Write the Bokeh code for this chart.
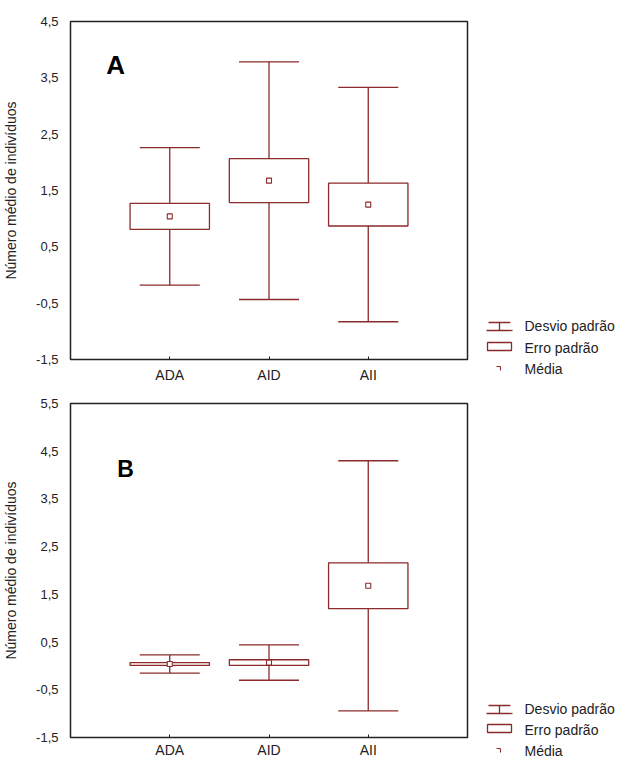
from bokeh.plotting import figure
from bokeh.models import (ColumnDataSource, FactorRange, Range1d, FixedTicker,
                          Whisker, TeeHead, Label)
from bokeh.layouts import column, row
from bokeh.embed import file_html
from bokeh.resources import INLINE
from bokeh.core.properties import value

# ---------------- data ----------------
categories = ["ADA", "AID", "AII"]

# Panel A : mean, standard error, standard deviation
a_mean = [1.04, 1.675, 1.25]
a_se = [0.23, 0.39, 0.38]
a_sd = [1.22, 2.11, 2.08]

# Panel B
b_mean = [0.04, 0.07, 1.68]
b_se = [0.03, 0.06, 0.48]
b_sd = [0.19, 0.37, 2.62]

a_yticks = [-1.5, -0.5, 0.5, 1.5, 2.5, 3.5, 4.5]
a_ylabels = ["-1,5", "-0,5", "0,5", "1,5", "2,5", "3,5", "4,5"]
b_yticks = [-1.5, -0.5, 0.5, 1.5, 2.5, 3.5, 4.5, 5.5]
b_ylabels = ["-1,5", "-0,5", "0,5", "1,5", "2,5", "3,5", "4,5", "5,5"]

y_title = "Número médio de indivíduos"
legend_labels = ["Desvio padrão", "Erro padrão", "Média"]

# ---------------- style ----------------
C = "#8B2B2B"
FONT = "Liberation Sans"
TXT = "#222222"
LW = 1.3
MAIN_W = 478


def panel(means, ses, sds, yticks, ylabels, letter, lx, ly, lsize,
          height, btop, bbottom, standoff):
    src = ColumnDataSource(dict(
        x=categories,
        mean=means,
        se_hi=[m + s for m, s in zip(means, ses)],
        se_lo=[m - s for m, s in zip(means, ses)],
        sd_hi=[m + s for m, s in zip(means, sds)],
        sd_lo=[m - s for m, s in zip(means, sds)],
    ))
    p = figure(width=MAIN_W, height=height,
               x_range=FactorRange(factors=categories, range_padding=0.5,
                                   range_padding_units="absolute"),
               y_range=Range1d(yticks[0], yticks[-1]),
               output_backend="svg", toolbar_location=None,
               title_location=None,
               min_border_left=68, min_border_right=11,
               min_border_top=btop, min_border_bottom=bbottom)
    p.xgrid.visible = False
    p.ygrid.visible = False
    p.outline_line_color = "#222222"
    p.outline_line_width = 1.5
    p.background_fill_color = "white"
    p.border_fill_color = "white"

    # whiskers (standard deviation) outside the box
    p.add_layout(Whisker(source=src, base="x", lower="se_hi", upper="sd_hi",
                         dimension="height", line_color=C, line_width=LW,
                         upper_head=TeeHead(size=60, line_color=C, line_width=LW),
                         lower_head=None))
    p.add_layout(Whisker(source=src, base="x", lower="sd_lo", upper="se_lo",
                         dimension="height", line_color=C, line_width=LW,
                         lower_head=TeeHead(size=60, line_color=C, line_width=LW),
                         upper_head=None))
    # standard error box
    p.vbar(x="x", top="se_hi", bottom="se_lo", width=0.8, source=src,
           fill_color="white", line_color=C, line_width=LW)
    # mean
    p.scatter(x="x", y="mean", marker="square", size=5, source=src,
              fill_color="white", line_color=C, line_width=1.1)

    # y axis
    ya = p.yaxis[0]
    ya.ticker = FixedTicker(ticks=yticks)
    ya.major_label_overrides = {t: l for t, l in zip(yticks, ylabels)}
    ya.minor_tick_line_color = None
    ya.major_tick_line_color = None
    ya.axis_line_color = "#222222"
    ya.major_label_standoff = 6
    ya.major_label_text_font = FONT
    ya.major_label_text_font_size = "13px"
    ya.major_label_text_color = TXT
    ya.axis_label = y_title
    ya.axis_label_text_font = FONT
    ya.axis_label_text_font_size = "14px"
    ya.axis_label_text_font_style = "normal"
    ya.axis_label_text_color = TXT
    ya.axis_label_standoff = 14

    # x axis
    xa = p.xaxis[0]
    xa.major_tick_in = 3
    xa.major_tick_out = 0
    xa.major_tick_line_color = "#222222"
    xa.axis_line_color = "#222222"
    xa.major_label_standoff = standoff
    xa.major_label_text_font = FONT
    xa.major_label_text_font_size = "14px"
    xa.major_label_text_color = TXT

    p.add_layout(Label(x=lx, y=ly, text=letter, text_font=FONT,
                       text_font_style="bold", text_font_size=lsize,
                       text_color="black", text_baseline="alphabetic",
                       text_align="left"))
    return p


def legend_fig(page_top, page_bottom, rows_y):
    # ranges expressed in page pixels
    lg = figure(width=618 - MAIN_W, height=page_bottom - page_top,
                x_range=Range1d(MAIN_W, 618),
                y_range=Range1d(page_bottom, page_top),
                output_backend="svg", toolbar_location=None,
                title_location=None,
                min_border=0, x_axis_location=None, y_axis_location=None)
    lg.outline_line_color = None
    lg.xgrid.visible = False
    lg.ygrid.visible = False
    y0, y1, y2 = rows_y
    # Desvio padrão symbol
    lg.segment(x0=[488, 486, 499], y0=[y0 - 3, y0 + 5, y0 - 3],
               x1=[510, 512, 499], y1=[y0 - 3, y0 + 5, y0 + 5],
               line_color=C, line_width=LW)
    # Erro padrão symbol
    lg.quad(left=[487], right=[511], top=[y1 - 5], bottom=[y1 + 3],
            fill_color="white", line_color=C, line_width=LW)
    # Média symbol
    lg.segment(x0=[496, 500], y0=[y2 - 2, y2 - 2], x1=[500, 500], y1=[y2 - 2, y2 + 2],
               line_color=C, line_width=1.1)
    lg.text(x=[524] * 3, y=list(rows_y), text=legend_labels,
            text_font=value(FONT), text_font_size="14px", text_color=TXT,
            text_baseline="middle", text_align="left")
    return lg


pA = panel(a_mean, a_se, a_sd, a_yticks, a_ylabels, "A", -0.14, 3.72, "26px",
           387, 21, 28, 7)
pB = panel(b_mean, b_se, b_sd, b_yticks, b_ylabels, "B", -0.03, 4.13, "23px",
           373, 16, 19, 4)
lA = legend_fig(0, 387, (325, 347, 368))
lB = legend_fig(387, 760, (708, 729, 750))

layout = row(column(pA, pB), column(lA, lB))

open("out.html", "w").write(file_html(layout, INLINE))
